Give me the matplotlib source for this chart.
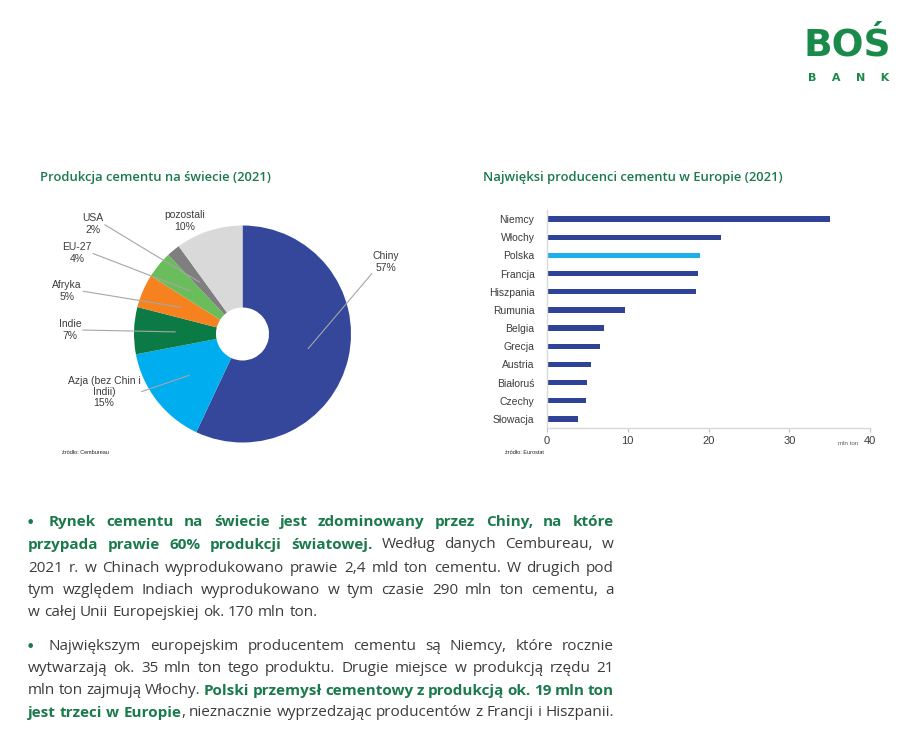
import numpy as np
import matplotlib.pyplot as plt

W, H = 919, 735
GREEN = '#1B7A4C'
TXT = '#3C3C3C'

# pie: world cement production 2021
pie_labels = ['Chiny\n57%', 'Azja (bez Chin i\nIndii)\n15%', 'Indie\n7%', 'Afryka\n5%',
              'EU-27\n4%', 'USA\n2%', 'pozostali\n10%']
pie_values = [57, 15, 7, 5, 4, 2, 10]
pie_colors = ['#34479B', '#00AEEF', '#0B7A45', '#F5821F', '#6ABD5B', '#7F7F7F', '#D9D9D9']

# bars: largest producers in Europe 2021 (mln ton)
countries = ['Niemcy', 'Włochy', 'Polska', 'Francja', 'Hiszpania', 'Rumunia', 'Belgia',
             'Grecja', 'Austria', 'Białoruś', 'Czechy', 'Słowacja']
production = [35.0, 21.5, 19.0, 18.7, 18.4, 9.6, 7.0, 6.6, 5.45, 5.0, 4.8, 3.9]
bar_ticks = [0, 10, 20, 30, 40]

# label centres (px), leader line start on the label box (relpos), None = no leader
label_pos = [(386, 262), (104, 392), (70, 330), (67, 291), (77, 253), (93, 224), (185, 221)]
label_rel = [(0, 0), (1, 0.5), (1, 0.5), (1, 0.5), (1, 0.5), (1, 0.5), None]

fig = plt.figure(figsize=(W / 100, H / 100), dpi=100)
fig.patch.set_facecolor('white')


def fx(x):
    return x / W


def fy(y):
    return 1 - y / H


# ---- logo
fig.text(fx(847), fy(46), 'BOŚ', fontsize=27, fontweight='bold', color='#1A8A4A',
         ha='center', va='center', family='DejaVu Sans')
fig.text(fx(849), fy(78), 'B    A    N    K', fontsize=8, fontweight='bold', color='#1A8A4A',
         ha='center', va='center', family='DejaVu Sans')

# ---- titles
fig.text(fx(40), fy(178), 'Produkcja cementu na świecie (2021)', fontsize=9.4, color=GREEN,
         fontweight='semibold', family='Open Sans', va='center')
fig.text(fx(483), fy(178), 'Najwięksi producenci cementu w Europie (2021)', fontsize=9.4,
         color=GREEN, fontweight='semibold', family='Open Sans', va='center')

# ---- pie
cx, cy, R, r_in = 242.5, 334, 108.5, 26.5
axp = fig.add_axes([fx(cx - R), fy(cy + R), 2 * R / W, 2 * R / H])
wedges, _ = axp.pie(pie_values, colors=pie_colors, startangle=90, counterclock=False,
                    radius=1, wedgeprops=dict(width=1 - r_in / R, edgecolor='none'))
axp.set_xlim(-1, 1)
axp.set_ylim(-1, 1)
axp.axis('off')
for w, lab, (lx, ly), rel in zip(wedges, pie_labels, label_pos, label_rel):
    th = np.deg2rad((w.theta1 + w.theta2) / 2)
    tx, ty = (lx - cx) / R, (cy - ly) / R
    if rel is not None:
        axp.annotate(lab, xy=(0.62 * np.cos(th), 0.62 * np.sin(th)), xytext=(tx, ty),
                     ha='center', va='center', fontsize=7.5, color=TXT,
                     family='Liberation Sans', linespacing=1.15,
                     arrowprops=dict(arrowstyle='-', color='#A6A6A6', lw=0.8,
                                     shrinkA=1, shrinkB=0, patchA=None, relpos=rel))
    else:
        axp.text(tx, ty, lab, ha='center', va='center', fontsize=7.5, color=TXT,
                 family='Liberation Sans', linespacing=1.15)
fig.text(fx(62), fy(452), 'źródło: Cembureau', fontsize=4, color='#222222',
         family='Liberation Sans', va='center')

# ---- bars
axb = fig.add_axes([fx(547), fy(428), (870 - 547) / W, (428 - 210) / H])
ypos = np.arange(len(countries))
bcolors = ['#1CAFE8' if c == 'Polska' else '#2E4396' for c in countries]
axb.barh(ypos, production, height=0.3, color=bcolors)
axb.set_yticks(ypos)
axb.set_yticklabels(countries, family='Liberation Sans')
axb.set_ylim(len(countries) - 0.5, -0.5)
axb.set_xlim(0, 40)
axb.set_xticks(bar_ticks)
axb.set_xticklabels([str(t) for t in bar_ticks], family='Liberation Sans')
for s in ['top', 'right']:
    axb.spines[s].set_visible(False)
for s in ['left', 'bottom']:
    axb.spines[s].set_color('#D9D9D9')
    axb.spines[s].set_linewidth(1)
axb.tick_params(axis='y', length=0, pad=9, labelsize=7.5, labelcolor=TXT)
axb.tick_params(axis='x', length=3, color='#BFBFBF', labelsize=8, labelcolor=TXT, pad=3)
fig.text(fx(838), fy(443), 'mln ton', fontsize=4.5, color='#595959',
         family='Liberation Sans', va='center')
fig.text(fx(505), fy(453), 'źródło: Eurostat', fontsize=4, color='#222222',
         family='Liberation Sans', va='center')

# ---- justified paragraph text
FS = 11
renderer = fig.canvas.get_renderer()


def measure(s, bold):
    t = fig.text(0, 0, s, fontsize=FS, family='Open Sans',
                 fontweight='bold' if bold else 'normal')
    w = t.get_window_extent(renderer).width
    t.remove()
    return w


space_w = measure('x x', False) - measure('xx', False)


def draw_line(runs, x0, x1, y, justify=True):
    chars, styles = [], []
    for s, b in runs:
        chars.extend(s)
        styles.extend([b] * len(s))
    words, cur = [], []
    for ch, b in zip(chars, styles):
        if ch == ' ':
            if cur:
                words.append(cur)
            cur = []
        else:
            if cur and cur[-1][1] == b:
                cur[-1][0] += ch
            else:
                cur.append([ch, b])
    if cur:
        words.append(cur)
    widths = [[measure(s, b) for s, b in w] for w in words]
    total = sum(sum(ws) for ws in widths)
    gap = (x1 - x0 - total) / (len(words) - 1) if justify and len(words) > 1 else space_w
    x = x0
    for w, ws in zip(words, widths):
        for (s, b), wd in zip(w, ws):
            fig.text(fx(x), fy(y), s, fontsize=FS, family='Open Sans',
                     fontweight='bold' if b else 'normal',
                     color=GREEN if b else TXT, va='center')
            x += wd
        x += gap


para1 = [
    ([('Rynek cementu na świecie jest zdominowany przez Chiny, na które', True)], 49, True),
    ([('przypada prawie 60% produkcji światowej.', True),
      (' Według danych Cembureau, w', False)], 28, True),
    ([('2021 r. w Chinach wyprodukowano prawie 2,4 mld ton cementu. W drugich pod', False)], 28, True),
    ([('tym względem Indiach wyprodukowano w tym czasie 290 mln ton cementu, a', False)], 28, True),
    ([('w całej Unii Europejskiej ok. 170 mln ton.', False)], 28, False),
]
para2 = [
    ([('Największym europejskim producentem cementu są Niemcy, które rocznie', False)], 49, True),
    ([('wytwarzają ok. 35 mln ton tego produktu. Drugie miejsce w produkcją rzędu 21', False)], 28, True),
    ([('mln ton zajmują Włochy. ', False),
      ('Polski przemysł cementowy z produkcją ok. 19 mln ton', True)], 28, True),
    ([('jest trzeci w Europie', True),
      (', nieznacznie wyprzedzając producentów z Francji i Hiszpanii.', False)], 28, True),
]
ys1 = [522, 545, 568, 591, 613]
ys2 = [646, 668, 691, 713]
for (runs, x0, j), y in zip(para1, ys1):
    draw_line(runs, x0, 614, y, j)
for (runs, x0, j), y in zip(para2, ys2):
    draw_line(runs, x0, 614, y, j)
fig.text(fx(30), fy(523), '•', fontsize=11.5, color=GREEN, va='center', ha='center')
fig.text(fx(30), fy(647), '•', fontsize=11.5, color=GREEN, va='center', ha='center')

fig.savefig('out.png', dpi=100)
